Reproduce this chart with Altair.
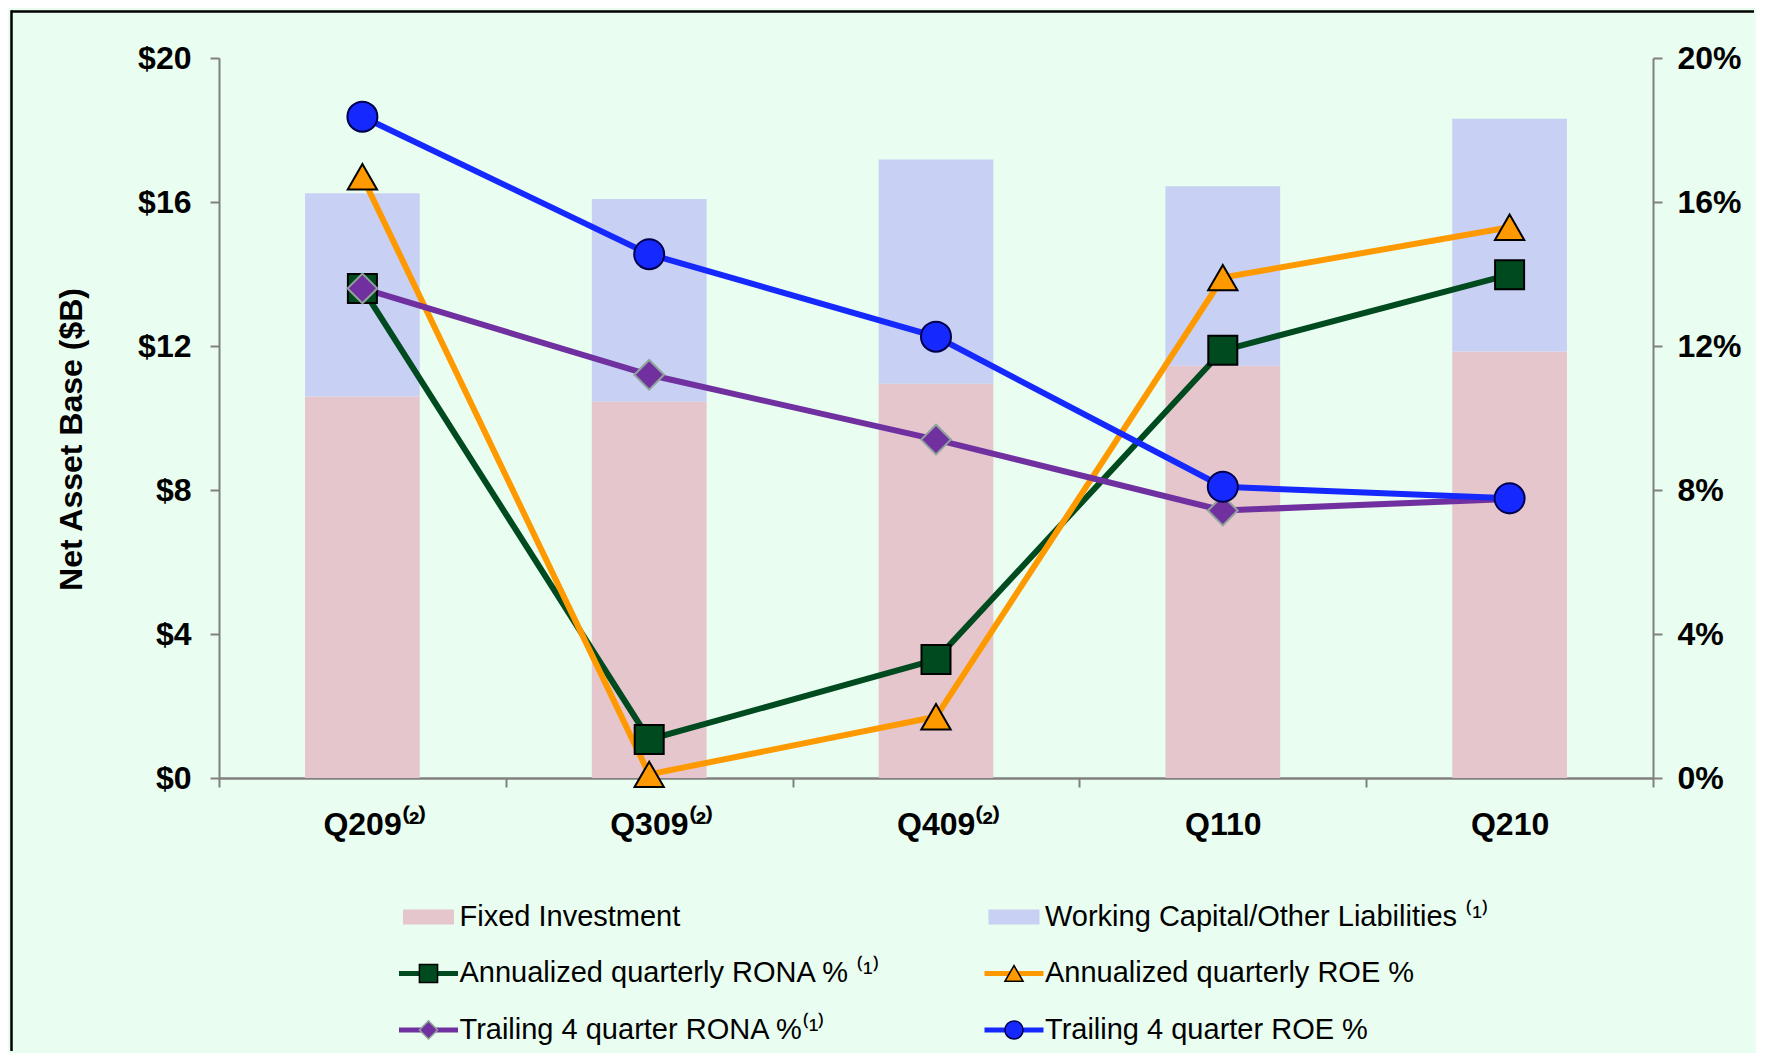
import altair as alt
import pandas as pd

# ---------------- data ----------------
quarters = ["Q209", "Q309", "Q409", "Q110", "Q210"]
quarter_notes = ["⁽²⁾", "⁽²⁾", "⁽²⁾", "", ""]

bar_components = ["Fixed Investment", "Working Capital/Other Liabilities"]
fixed_investment = [10.6, 10.45, 10.95, 11.45, 11.85]
working_capital = [5.64, 5.63, 6.23, 4.99, 6.46]

line_series = [
    "Annualized quarterly RONA %",
    "Annualized quarterly ROE %",
    "Trailing 4 quarter RONA %",
    "Trailing 4 quarter ROE %",
]
ann_rona = [13.6, 1.07, 3.29, 11.88, 13.98]
ann_roe = [16.7, 0.1, 1.7, 13.9, 15.3]
trail_rona = [13.6, 11.2, 9.4, 7.43, 7.75]
trail_roe = [18.37, 14.55, 12.26, 8.09, 7.77]

legend_labels = [
    "Fixed Investment",
    "Working Capital/Other Liabilities ⁽¹⁾",
    "Annualized quarterly RONA % ⁽¹⁾",
    "Annualized quarterly ROE %",
    "Trailing 4 quarter RONA %⁽¹⁾",
    "Trailing 4 quarter ROE %",
]

left_ticks = [0, 4, 8, 12, 16, 20]
right_ticks = [0, 4, 8, 12, 16, 20]

# ---------------- styles ----------------
all_keys = bar_components + line_series
all_colors = ["#E4C6CC", "#C8D0F4", "#004A1F", "#FF9900", "#7030A0", "#1529FF"]
marker_shapes = ["square", "triangle-up", "diamond", "circle"]
marker_strokes = ["#000000", "#000000", "#8FA39B", "#00004D"]
marker_sizes = [841, 900, 1024, 870]

FONT = "Liberation Sans"
GRAY = "#808080"
BG = "#E9FDF0"
AXIS_FS = 32

color_scale = alt.Scale(domain=all_keys, range=all_colors)
shape_scale = alt.Scale(domain=line_series, range=marker_shapes)
stroke_scale = alt.Scale(domain=line_series, range=marker_strokes)
size_scale = alt.Scale(domain=line_series, range=marker_sizes)

# ---------------- tables ----------------
bar_rows = []
for i, q in enumerate(quarters):
    bar_rows.append({"quarter": q, "component": bar_components[0], "value": fixed_investment[i], "stack_order": 0})
    bar_rows.append({"quarter": q, "component": bar_components[1], "value": working_capital[i], "stack_order": 1})
bars_df = pd.DataFrame(bar_rows)

line_rows = []
for s, vals in zip(line_series, [ann_rona, ann_roe, trail_rona, trail_roe]):
    for q, v in zip(quarters, vals):
        line_rows.append({"quarter": q, "series": s, "pct": v})
lines_df = pd.DataFrame(line_rows)

legend_df = pd.DataFrame({
    "key": all_keys,
    "label": legend_labels,
    "col": [i % 2 for i in range(len(all_keys))],
    "row": [i // 2 for i in range(len(all_keys))],
    "kind": ["bar" if k in bar_components else "line" for k in all_keys],
})

sup_quarters = [q for q, n in zip(quarters, quarter_notes) if n]
sup_list = "[" + ",".join("'" + q + "'" for q in sup_quarters) + "]"
label_expr = ("isValid(datum.value) ? (datum.value + (indexof(" + sup_list +
              ", datum.value) >= 0 ? '" + quarter_notes[0] + "' : '')) : ''")

# ---------------- main chart ----------------
x_axis = alt.Axis(
    orient="bottom", labelAngle=0, tickBand="extent", labelExpr=label_expr,
    labelOffset={"condition": {"test": "indexof(" + sup_list + ", datum.value) >= 0", "value": 12}, "value": 0},
    labelFont=FONT, labelFontSize=AXIS_FS, labelFontWeight="bold", labelColor="black",
    labelPadding=22, tickSize=9, tickColor=GRAY, tickWidth=2,
    domainColor=GRAY, domainWidth=2.5, grid=False,
)
x_enc = alt.X("quarter:N", sort=quarters,
              scale=alt.Scale(type="band", domain=quarters, paddingInner=0, paddingOuter=0),
              title=None, axis=x_axis)

left_axis = alt.Axis(
    orient="left", values=left_ticks, labelExpr="'$' + datum.value",
    title="Net Asset Base ($B)", titleFont=FONT, titleFontSize=AXIS_FS, titleFontWeight="bold",
    titleColor="black", titleX=-131, titleY=381,
    labelFont=FONT, labelFontSize=AXIS_FS, labelFontWeight="bold", labelColor="black",
    labelPadding=19, tickSize=9, tickColor=GRAY, tickWidth=2,
    domainColor=GRAY, domainWidth=2, grid=False,
)
right_axis = alt.Axis(
    orient="right", values=right_ticks, labelExpr="datum.value + '%'",
    labelFont=FONT, labelFontSize=AXIS_FS, labelFontWeight="bold", labelColor="black",
    labelPadding=15, tickSize=9, tickColor=GRAY, tickWidth=2,
    domainColor=GRAY, domainWidth=2, grid=False,
)

bars = alt.Chart(bars_df).mark_bar(width=alt.RelativeBandSize(0.4)).encode(
    x=x_enc,
    y=alt.Y("value:Q", stack="zero", scale=alt.Scale(domain=[0, 20], nice=False), axis=left_axis),
    color=alt.Color("component:N", scale=color_scale, legend=None),
    order=alt.Order("stack_order:Q", sort="ascending"),
)

y_pct = alt.Scale(domain=[0, 20], nice=False)
lines = alt.Chart(lines_df).mark_line(strokeWidth=6).encode(
    x=x_enc,
    y=alt.Y("pct:Q", scale=y_pct, axis=right_axis, title=None),
    color=alt.Color("series:N", scale=color_scale, legend=None),
)
points = alt.Chart(lines_df).mark_point(filled=True, opacity=1, strokeWidth=2).encode(
    x=x_enc,
    y=alt.Y("pct:Q", scale=y_pct, axis=right_axis, title=None),
    fill=alt.Fill("series:N", scale=color_scale, legend=None),
    shape=alt.Shape("series:N", scale=shape_scale, legend=None),
    stroke=alt.Stroke("series:N", scale=stroke_scale, legend=None),
    size=alt.Size("series:O", scale=size_scale, legend=None),
)

frame_df = pd.DataFrame({"k": [0]})
frame_top = alt.Chart(frame_df).mark_rule(color="black", strokeWidth=2.5).encode(
    x=alt.value(-207.5), x2=alt.value(1535), y=alt.value(-46.5))
frame_left = alt.Chart(frame_df).mark_rule(color="black", strokeWidth=2.5).encode(
    x=alt.value(-207.5), y=alt.value(-47.75), y2=alt.value(993))

main = alt.layer(frame_top, frame_left, bars, alt.layer(lines, points)).resolve_scale(
    y="independent").properties(width=1434, height=720)

# ---------------- legend panel ----------------
leg_base = alt.Chart(legend_df).encode(
    x=alt.X("col:Q", scale=alt.Scale(domain=[-0.3578, 2.0914], nice=False, zero=False), axis=None),
    y=alt.Y("row:Q", scale=alt.Scale(domain=[-1.221, 2.142], reverse=True, nice=False, zero=False), axis=None),
)
sw_bar = leg_base.transform_filter("datum.kind == 'bar'").mark_point(
    shape="M-1.7,-0.5H1.7V0.5H-1.7Z", size=900, filled=True, opacity=1, strokeWidth=0
).encode(fill=alt.Fill("key:N", scale=color_scale, legend=None))
sw_line = leg_base.transform_filter("datum.kind == 'line'").mark_point(
    shape="M-2,-0.17H2V0.17H-2Z", size=870, filled=True, opacity=1, strokeWidth=0
).encode(fill=alt.Fill("key:N", scale=color_scale, legend=None))
sw_marker = leg_base.transform_filter("datum.kind == 'line'").mark_point(
    filled=True, opacity=1, strokeWidth=1.5, size=330
).encode(
    fill=alt.Fill("key:N", scale=color_scale, legend=None),
    shape=alt.Shape("key:N", scale=shape_scale, legend=None),
    stroke=alt.Stroke("key:N", scale=stroke_scale, legend=None),
)
leg_text = leg_base.mark_text(align="left", baseline="middle", dx=31, fontSize=29,
                              font=FONT, color="black").encode(text="label:N")

legend_panel = alt.layer(sw_bar, sw_line, sw_marker, leg_text).properties(width=1434, height=190)

chart = alt.vconcat(main, legend_panel, spacing=70, bounds="flush").properties(
    padding={"left": 2, "top": 1, "right": 0, "bottom": 0},
    background=BG,
).configure(font=FONT).configure_view(stroke="transparent", strokeWidth=0)

chart.save("out.html", embed_options={"renderer": "svg", "actions": False})
